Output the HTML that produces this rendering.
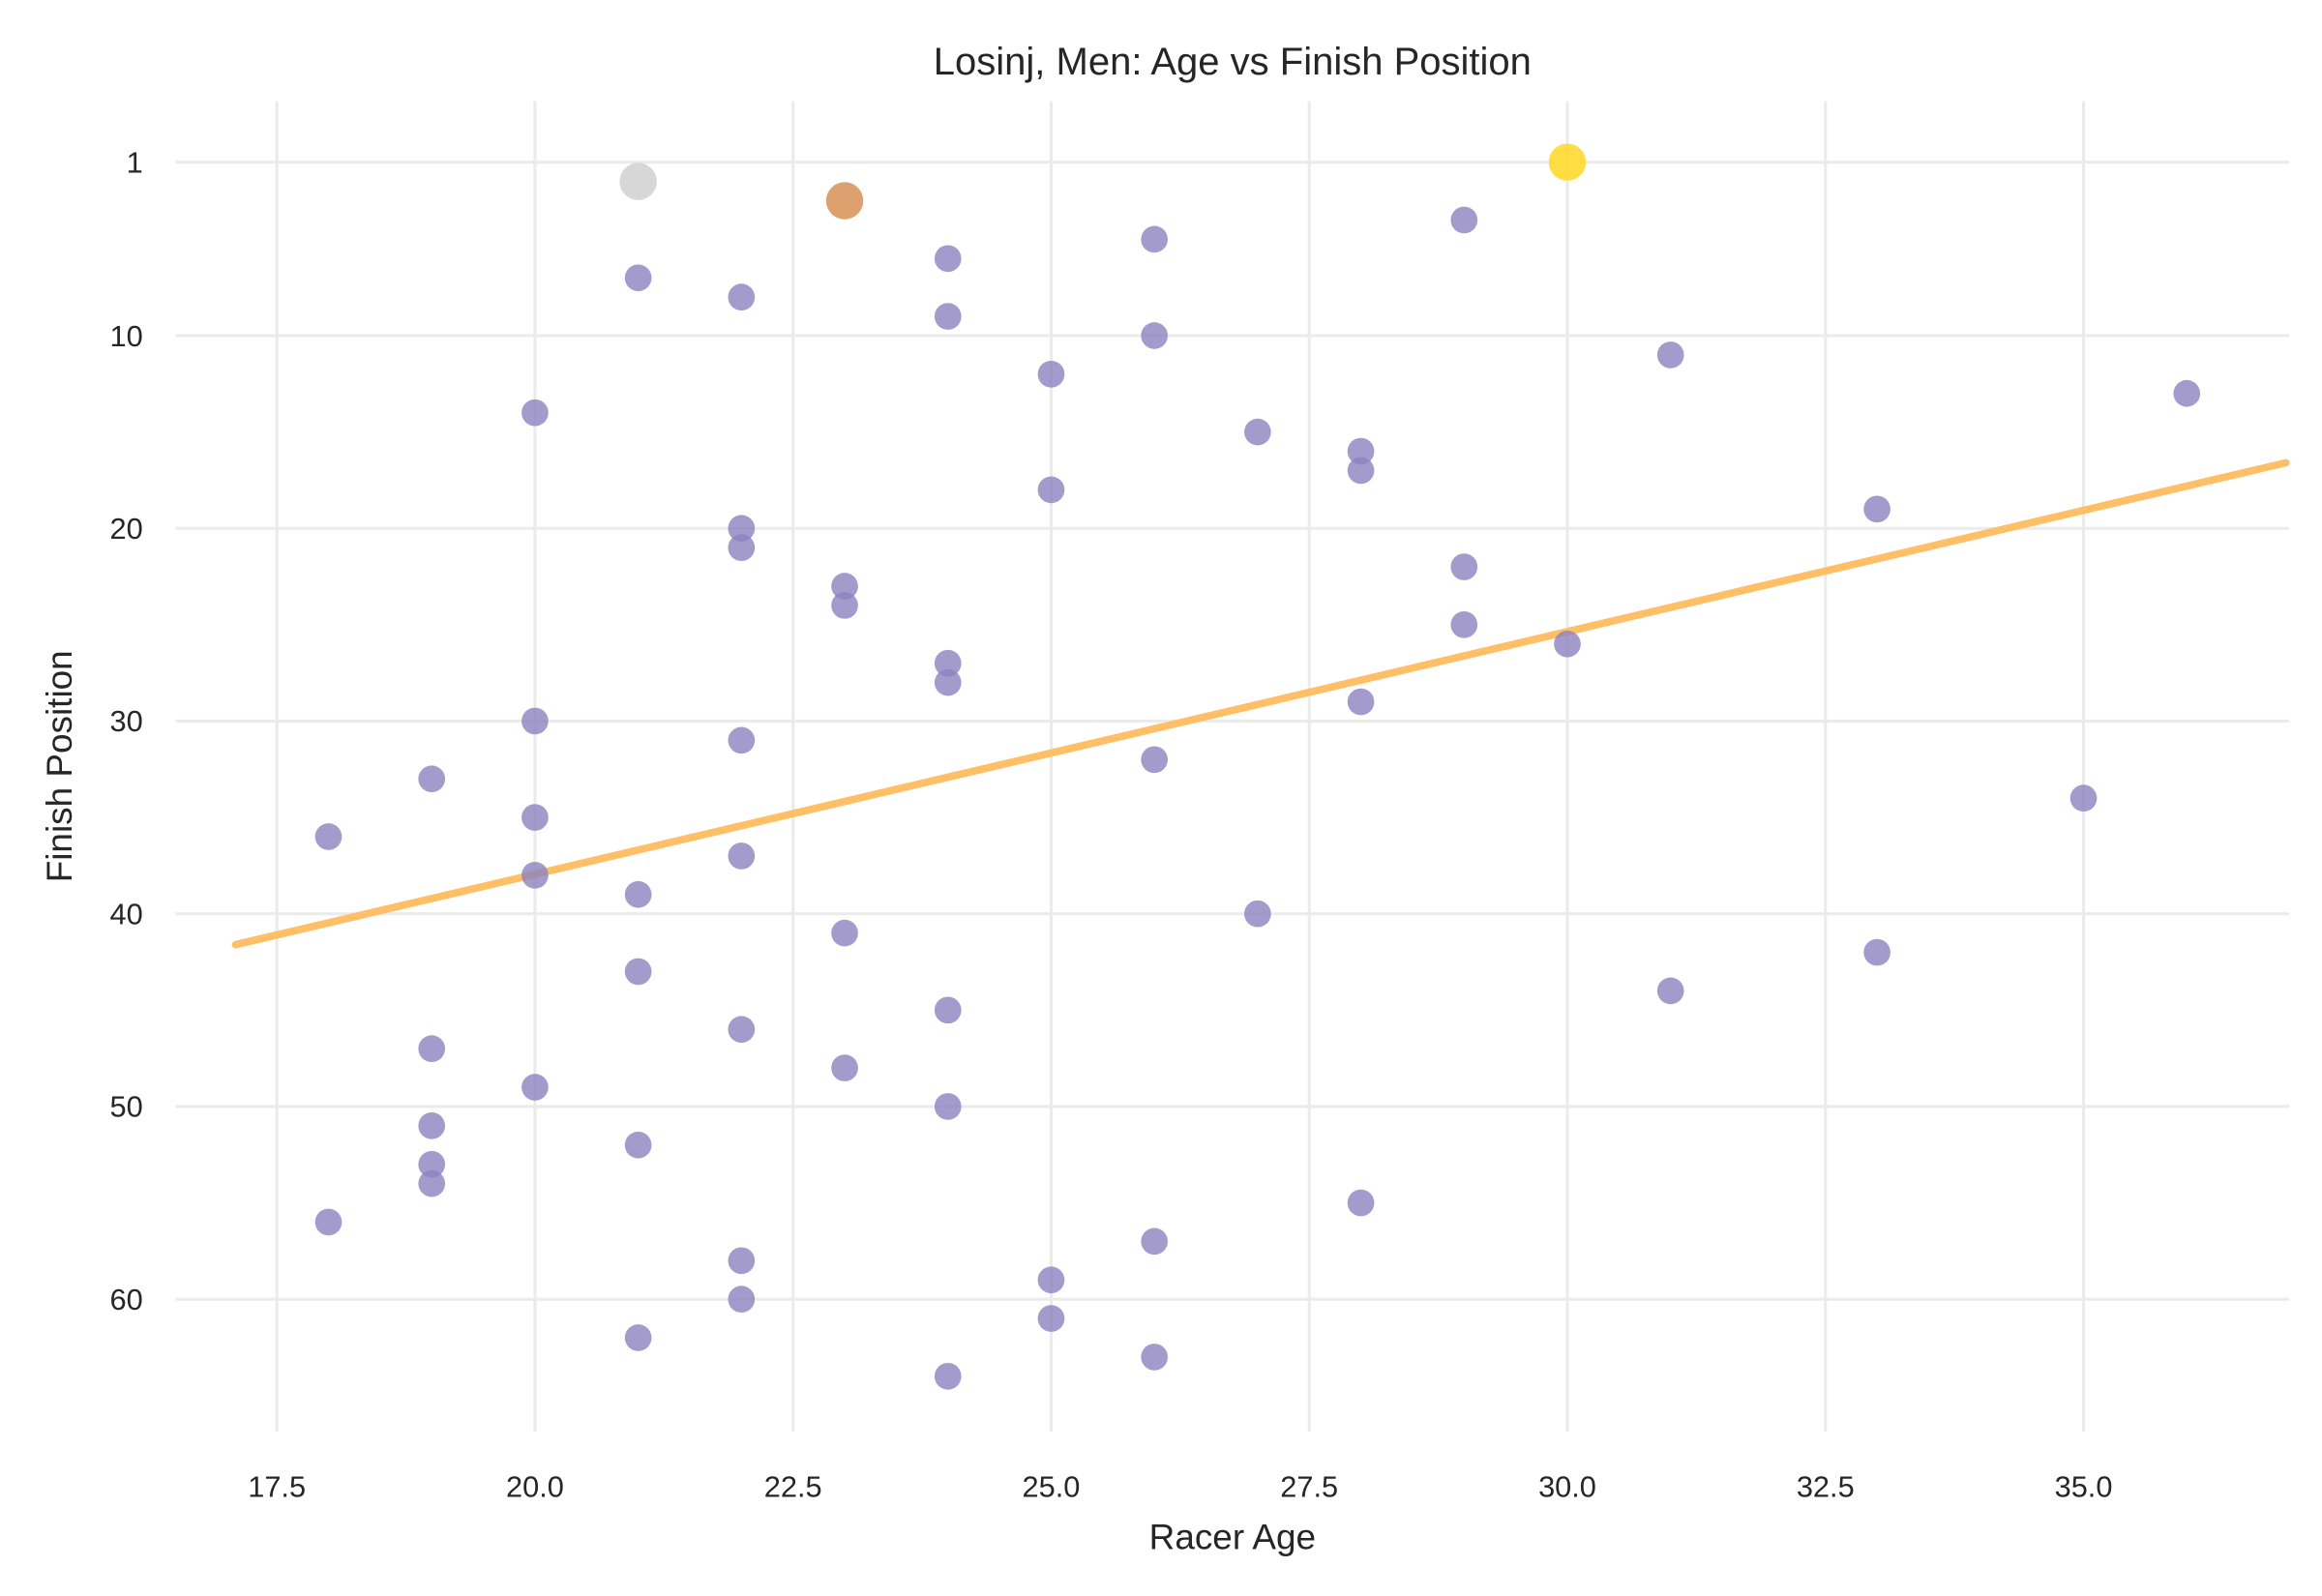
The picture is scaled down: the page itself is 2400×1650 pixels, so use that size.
<!DOCTYPE html>
<html><head><meta charset="utf-8"><style>
html,body{margin:0;padding:0;background:#fff;}
svg{display:block;font-family:"Liberation Sans",Arial,sans-serif;}
</style></head><body>
<svg id="chart" width="2400" height="1650" viewBox="0 0 1560 1072.5" xmlns="http://www.w3.org/2000/svg">
<rect width="1560" height="1072.5" fill="#fff"/>
<g id="grid"></g>
<g id="trend"></g>
<g id="points"></g>
<g id="xticks"></g>
<g id="yticks"></g>
<text x="828" y="50" font-size="26" text-anchor="middle" fill="#262626">Losinj, Men: Age vs Finish Position</text>
<text x="828" y="1041" font-size="24" text-anchor="middle" fill="#262626">Racer Age</text>
<text x="0" y="0" font-size="24" text-anchor="middle" fill="#262626" transform="translate(48,515) rotate(-90)">Finish Position</text>
</svg>
<script>
const ages=[30,21,23,29,26,24,21,22,24,26,31,25,36,20,27,28,28,25,33,22,22,29,23,23,29,30,24,24,28,20,22,26,19,35,20,18,22,20,21,27,23,33,21,31,24,22,19,23,20,24,19,21,19,19,28,18,26,22,25,22,25,21,26,24];
const positions=[1,2,3,4,5,6,7,8,9,10,11,12,13,14,15,16,17,18,19,20,21,22,23,24,25,26,27,28,29,30,31,32,33,34,35,36,37,38,39,40,41,42,43,44,45,46,47,48,49,50,51,52,53,54,55,56,57,58,59,60,61,62,63,64];
const xTicks=[17.5,20.0,22.5,25.0,27.5,30.0,32.5,35.0];
const yTicks=[1,10,20,30,40,50,60];
const trendSlope=-1.259;
const trendIntercept=63.13;
const trendRange=[17.1,36.96];
const NS="http://www.w3.org/2000/svg";
function X(a){return 186+(a-17.5)*69.36;}
function Y(p){return 109+(p-1)*12.95;}
function mk(tag,attrs,parent){const e=document.createElementNS(NS,tag);for(const k in attrs)e.setAttribute(k,attrs[k]);parent.appendChild(e);return e;}
const g=document.getElementById('grid');
xTicks.forEach(t=>{const l=mk('line',{x1:X(t),x2:X(t),y1:68,y2:962,stroke:'#ebebeb','stroke-width':2},g);


const tx=mk('text',{x:X(t),y:1006,'font-size':20,'text-anchor':'middle',fill:'#262626'},document.getElementById('xticks'));
tx.textContent=t.toFixed(1);

});
yTicks.forEach(t=>{const l=mk('line',{x1:118,x2:1538,y1:Y(t),y2:Y(t),stroke:'#ebebeb','stroke-width':2},g);


const tx=mk('text',{x:96,y:Y(t)+7,'font-size':20,'text-anchor':'end',fill:'#262626'},document.getElementById('yticks'));
tx.textContent=t;

});
const pg=document.getElementById('points');
const medal={1:'#ffd92f',2:'#d3d3d3',3:'#d8975e'};
for(let i=0;i<ages.length;i++){
 const p=positions[i];
 const isMedal=medal[p]!==undefined;
 const c=mk('circle',{cx:X(ages[i]),cy:Y(p),r:isMedal?12.5:9,fill:isMedal?medal[p]:'#8c82bf','fill-opacity':isMedal?0.9:0.8},pg);
 
 
}
const tg=document.getElementById('trend');
const tl=mk('line',{x1:X(trendRange[0]),y1:Y(trendIntercept+trendSlope*trendRange[0]),x2:X(trendRange[1]),y2:Y(trendIntercept+trendSlope*trendRange[1]),stroke:'#ffbf66','stroke-width':5,'stroke-linecap':'round'},tg);


</script>
</body></html>
